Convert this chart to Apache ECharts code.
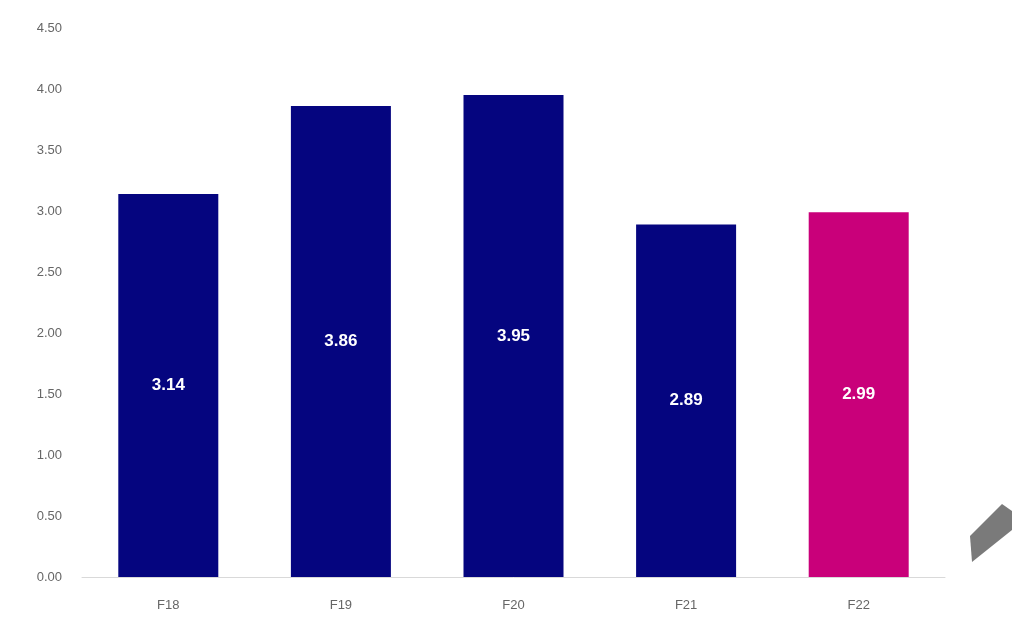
<!DOCTYPE html>
<html>
<head>
<meta charset="utf-8">
<script src="https://cdn.jsdelivr.net/npm/echarts@6/dist/echarts.min.js"></script>
<style>
	html, body { margin: 0; padding: 0; background: #fff; }
	#chart { width: 1012px; height: 623px; }
</style>
</head>
<body>
<div id="chart"></div>
<script>
var categories = ['F18', 'F19', 'F20', 'F21', 'F22'];
var values = [3.14, 3.86, 3.95, 2.89, 2.99];
var barColors = ['#05057f', '#05057f', '#05057f', '#05057f', '#c9007a'];

var seriesData = values.map(function(v, i){
	return { value: v, itemStyle: { color: barColors[i] } };
});

var chart = echarts.init(document.getElementById('chart'));
var option = {
	animation: false,
	grid: { left: 82, right: 67, top: 28, bottom: 46 },
	xAxis: {
		type: 'category',
		data: categories,
		axisLine: { lineStyle: { color: '#d9d9d9', width: 1 } },
		axisTick: { show: false },
		axisLabel: { color: '#666', fontSize: 13, fontFamily: 'Liberation Sans', margin: 22 }
	},
	yAxis: {
		type: 'value',
		min: 0,
		max: 4.5,
		interval: 0.5,
		splitLine: { show: false },
		axisLine: { show: false },
		axisTick: { show: false },
		axisLabel: {
			color: '#666',
			fontSize: 13,
			fontFamily: 'Liberation Sans',
			margin: 20,
			formatter: function(v){ return v.toFixed(2); }
		}
	},
	series: [
		{
			type: 'bar',
			barWidth: 100,
			data: seriesData,
			label: {
				show: true,
				position: 'inside',
				color: '#fff',
				fontSize: 17,
				fontWeight: 'bold',
				fontFamily: 'Liberation Sans',
				formatter: function(p){ return p.value.toFixed(2); }
			}
		}
	],
	graphic: [
		{
			type: 'polygon',
			shape: { points: [[970, 536], [1002, 504], [1012, 511], [1012, 530], [972, 562]] },
			style: { fill: '#7a7a7a' }
		}
	]
};
chart.setOption(option);
</script>
</body>
</html>
